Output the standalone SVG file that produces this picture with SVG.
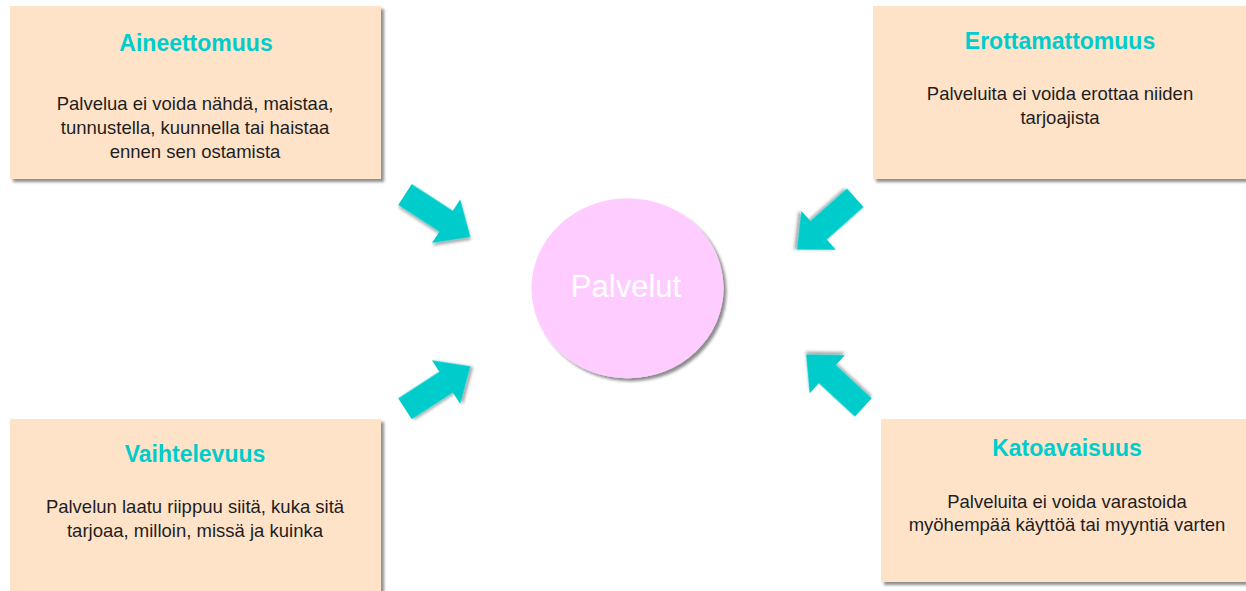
<svg xmlns="http://www.w3.org/2000/svg" width="1246" height="591" viewBox="0 0 1246 591">
<style>
.box{fill:#FEE3C9;filter:url(#sh);}
.title{font-family:"Liberation Sans",Arial,sans-serif;font-weight:bold;font-size:23px;fill:#00CCCC;text-anchor:middle;}
.body{font-family:"Liberation Sans",Arial,sans-serif;font-size:18.5px;fill:#1E1E1E;text-anchor:middle;}
.arrow{fill:#00CCCC;filter:url(#sh2);}
</style>
<defs>
<filter id="sh" x="-10%" y="-10%" width="120%" height="130%">
<feDropShadow dx="3" dy="3" stdDeviation="1.5" flood-color="#000" flood-opacity="0.45"/>
</filter>
<filter id="sh2" x="-20%" y="-20%" width="140%" height="140%">
<feDropShadow dx="2" dy="2" stdDeviation="1.5" flood-color="#000" flood-opacity="0.35"/>
</filter>
<path id="arr" d="M0,-12.5 L49,-12.5 L49,-26 L78,0 L49,26 L49,12.5 L0,12.5 Z"/>
</defs>
<rect width="1246" height="591" fill="#FFFFFF"/>

<g id="node-aineettomuus">
<rect class="box" x="10" y="6" width="371" height="173"/>
<text class="title" x="196" y="51">Aineettomuus</text>
<text class="body" x="195" y="110">Palvelua ei voida nähdä, maistaa,</text>
<text class="body" x="195" y="134">tunnustella, kuunnella tai haistaa</text>
<text class="body" x="195" y="158">ennen sen ostamista</text>
</g>

<g id="node-erottamattomuus">
<rect class="box" x="873" y="6" width="380" height="173"/>
<text class="title" x="1060" y="49">Erottamattomuus</text>
<text class="body" x="1060" y="100">Palveluita ei voida erottaa niiden</text>
<text class="body" x="1060" y="124">tarjoajista</text>
</g>

<g id="node-vaihtelevuus">
<rect class="box" x="10" y="419" width="371" height="190"/>
<text class="title" x="195" y="462">Vaihtelevuus</text>
<text class="body" x="195" y="513">Palvelun laatu riippuu siitä, kuka sitä</text>
<text class="body" x="195" y="537">tarjoaa, milloin, missä ja kuinka</text>
</g>

<g id="node-katoavaisuus">
<rect class="box" x="881" y="419" width="372" height="163"/>
<text class="title" x="1067" y="456">Katoavaisuus</text>
<text class="body" x="1067" y="508">Palveluita ei voida varastoida</text>
<text class="body" x="1067" y="531">myöhempää käyttöä tai myyntiä varten</text>
</g>

<g id="node-palvelut">
<ellipse cx="627.5" cy="288.3" rx="96" ry="90" fill="#FFCCFF" filter="url(#sh)"/>
<text x="626" y="297" font-family="&quot;Liberation Sans&quot;,Arial,sans-serif" font-size="31" fill="#FFFFFF" text-anchor="middle">Palvelut</text>
</g>

<g id="connectors">
<use href="#arr" class="arrow" transform="translate(405,194.5) rotate(33)"/>
<use href="#arr" class="arrow" transform="translate(855.3,197.8) rotate(138.4)"/>
<use href="#arr" class="arrow" transform="translate(405,408.8) rotate(-33)"/>
<use href="#arr" class="arrow" transform="translate(863.3,407.5) rotate(-137.2)"/>
</g>
</svg>
